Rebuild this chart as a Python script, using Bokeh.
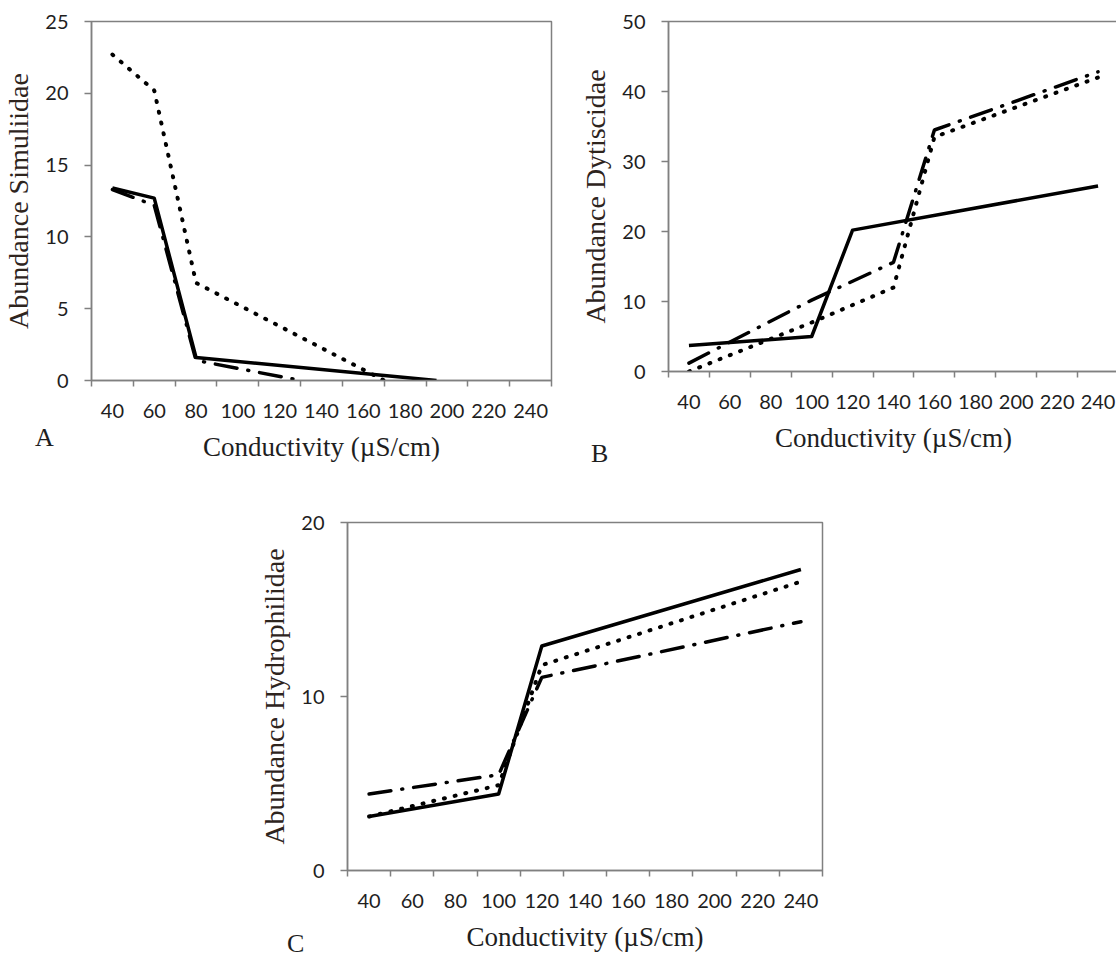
from bokeh.plotting import figure
from bokeh.layouts import column, row
from bokeh.models import Range1d, FixedTicker, Spacer, Div
from bokeh.embed import file_html
from bokeh.resources import INLINE

# ---------------- data ----------------
x_tick_labels = [40, 60, 80, 100, 120, 140, 160, 180, 200, 220, 240]
x_tick_marks = [30, 50, 70, 90, 110, 130, 150, 170, 190, 210, 230, 250]
x_title = "Conductivity (\u00b5S/cm)"
panel_letters = ["A", "B", "C"]

# Panel A - Simuliidae
a_solid_x = [40, 60, 80, 195]
a_solid_y = [13.4, 12.7, 1.6, 0.0]
a_dot_x = [40, 60, 80, 170]
a_dot_y = [22.7, 20.2, 6.8, 0.0]
a_dashdot_x = [40, 60, 80, 130]
a_dashdot_y = [13.3, 12.2, 1.4, 0.0]
a_y_ticks = [0, 5, 10, 15, 20, 25]

# Panel B - Dytiscidae
b_solid_x = [40, 100, 120, 240]
b_solid_y = [3.7, 5.0, 20.2, 26.5]
b_dot_x = [40, 100, 140, 160, 240]
b_dot_y = [0.0, 7.0, 12.0, 33.5, 42.0]
b_dashdot_x = [40, 100, 140, 160, 240]
b_dashdot_y = [1.2, 10.2, 15.6, 34.5, 42.8]
b_y_ticks = [0, 10, 20, 30, 40, 50]

# Panel C - Hydrophilidae
c_solid_x = [40, 100, 120, 240]
c_solid_y = [3.1, 4.4, 12.9, 17.3]
c_dot_x = [40, 100, 120, 240]
c_dot_y = [3.1, 4.9, 11.8, 16.6]
c_dashdot_x = [40, 100, 120, 240]
c_dashdot_y = [4.4, 5.5, 11.1, 14.3]
c_y_ticks = [0, 10, 20]

AXIS_COL = "#808080"
TEXT_COL = "#1e1e1e"
TICK_FONT = "Lato"
SERIF = "Liberation Serif"


def make_panel(ylabel, y_ticks, series, fw, fh, bl, bt, br, bb):
    p = figure(frame_width=fw, frame_height=fh,
               min_border_left=bl, min_border_top=bt,
               min_border_right=br, min_border_bottom=bb,
               x_range=Range1d(x_tick_marks[0], x_tick_marks[-1]),
               y_range=Range1d(y_ticks[0], y_ticks[-1]),
               output_backend="svg", toolbar_location=None)
    p.xgrid.visible = False
    p.ygrid.visible = False
    p.background_fill_color = "white"
    p.border_fill_color = "white"
    p.outline_line_color = AXIS_COL
    p.outline_line_width = 1.5

    xa = p.xaxis[0]
    xa.ticker = FixedTicker(ticks=x_tick_labels, minor_ticks=x_tick_marks)
    xa.major_tick_out = 0
    xa.major_tick_in = 0
    xa.minor_tick_out = 6
    xa.minor_tick_in = 0
    xa.minor_tick_line_color = AXIS_COL
    xa.minor_tick_line_width = 1.5
    xa.axis_line_color = AXIS_COL
    xa.axis_line_width = 1.5
    xa.major_label_text_font = TICK_FONT
    xa.major_label_text_font_size = "20px"
    xa.major_label_text_color = TEXT_COL
    xa.major_label_standoff = 17
    xa.axis_label = x_title
    xa.axis_label_text_font = SERIF
    xa.axis_label_text_font_size = "27px"
    xa.axis_label_text_font_style = "normal"
    xa.axis_label_text_color = TEXT_COL
    xa.axis_label_standoff = 11

    ya = p.yaxis[0]
    ya.ticker = FixedTicker(ticks=y_ticks, minor_ticks=[])
    ya.major_tick_out = 7
    ya.major_tick_in = 0
    ya.major_tick_line_color = AXIS_COL
    ya.major_tick_line_width = 1.5
    ya.axis_line_color = AXIS_COL
    ya.axis_line_width = 1.5
    ya.major_label_text_font = TICK_FONT
    ya.major_label_text_font_size = "20px"
    ya.major_label_text_color = TEXT_COL
    ya.major_label_standoff = 16
    ya.axis_label = ylabel
    ya.axis_label_text_font = SERIF
    ya.axis_label_text_font_size = "28px"
    ya.axis_label_text_font_style = "normal"
    ya.axis_label_text_color = "#2e241d"
    ya.axis_label_standoff = 8

    (sx, sy), (dx, dy), (ddx, ddy) = series
    p.line(ddx, ddy, line_color="black", line_width=3.5,
           line_dash="22 11 1 11", line_cap="round")
    p.line(dx, dy, line_color="black", line_width=4,
           line_dash="1 10", line_cap="round")
    p.line(sx, sy, line_color="black", line_width=3.5, line_join="round")
    return p


def letter_div(text, left, top):
    return Div(text=text, margin=0, width=22, height=24, styles={
        "position": "absolute", "left": f"{left}px", "top": f"{top}px",
        "font-family": SERIF, "font-size": "26px", "line-height": "24px",
        "color": TEXT_COL, "margin": "0", "padding": "0",
        "overflow": "visible",
    })


pA = make_panel("Abundance Simuliidae", a_y_ticks,
                [(a_solid_x, a_solid_y), (a_dot_x, a_dot_y),
                 (a_dashdot_x, a_dashdot_y)],
                fw=460, fh=359, bl=87, bt=21, br=13, bb=100)
pB = make_panel("Abundance Dytiscidae", b_y_ticks,
                [(b_solid_x, b_solid_y), (b_dot_x, b_dot_y),
                 (b_dashdot_x, b_dashdot_y)],
                fw=450, fh=350, bl=104, bt=19, br=2, bb=111)
pC = make_panel("Abundance Hydrophilidae", c_y_ticks,
                [(c_solid_x, c_solid_y), (c_dot_x, c_dot_y),
                 (c_dashdot_x, c_dashdot_y)],
                fw=475, fh=348, bl=100, bt=42, br=10, bb=88)

layout = column(row(pA, pB, spacing=0),
                row(Spacer(width=247, height=478), pC, spacing=0),
                spacing=0)

divs = [letter_div(panel_letters[0], 35, 426),
        letter_div(panel_letters[1], 591, 442),
        letter_div(panel_letters[2], 287, 932)]

open("out.html", "w").write(file_html([layout] + divs, INLINE))
